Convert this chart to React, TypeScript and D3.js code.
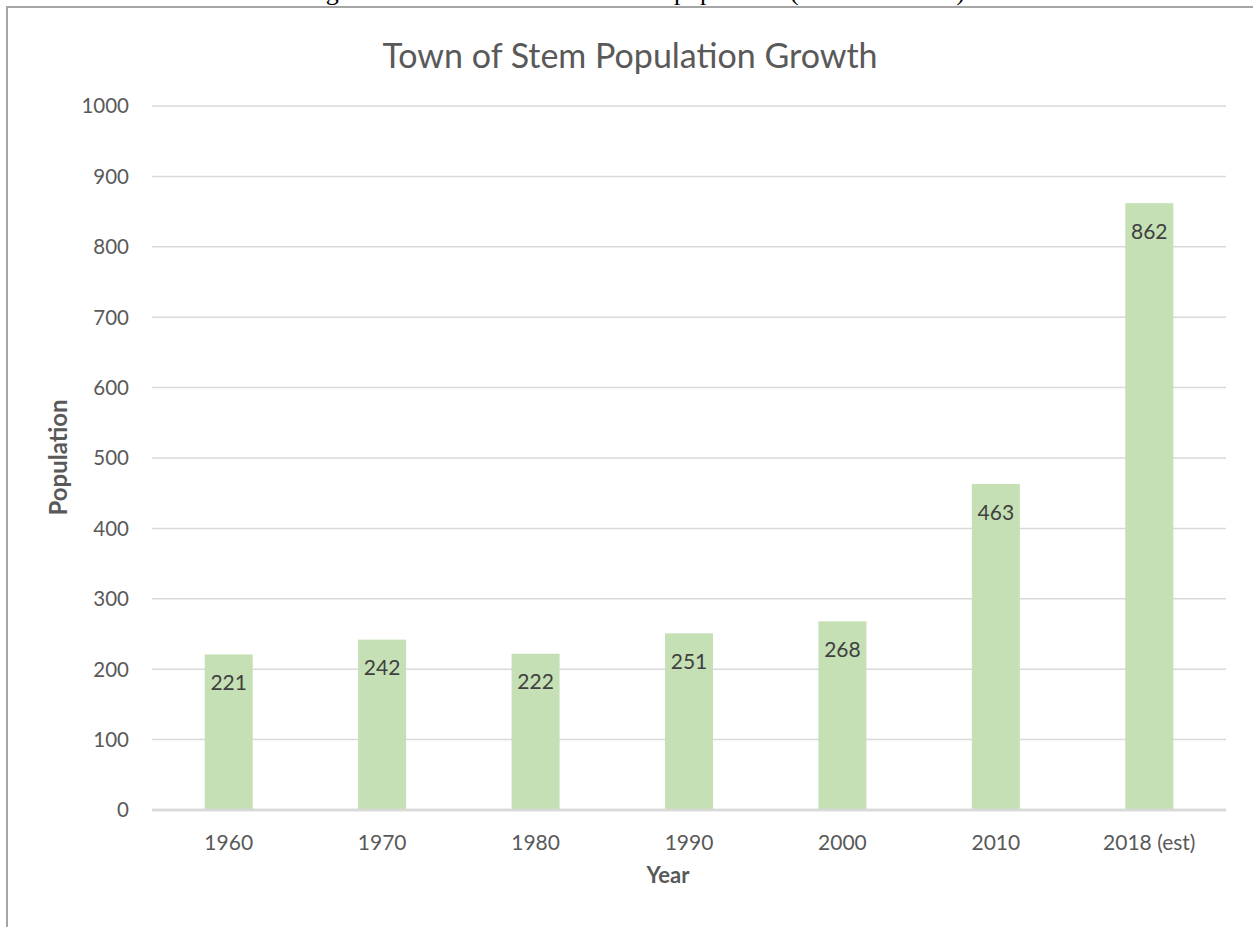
import React from "react";
import * as d3 from "d3";

// Census counts for the Town of Stem, one bar per period
const years: string[] = ["1960", "1970", "1980", "1990", "2000", "2010", "2018 (est)"];
const population: number[] = [221, 242, 222, 251, 268, 463, 862];
const yTicks: number[] = [0, 100, 200, 300, 400, 500, 600, 700, 800, 900, 1000];

const chartTitle = "Town of Stem Population Growth";
const xTitle = "Year";
const yTitle = "Population";

const W = 1253;
const H = 927;
const FONT = "Lato, 'Open Sans', sans-serif";
const SERIF = "'Liberation Serif', 'Times New Roman', serif";

export default function App() {
  const plot = { left: 152, right: 1226, top: 106, bottom: 810 };

  const x = d3
    .scaleBand<string>()
    .domain(years)
    .range([plot.left, plot.right])
    .paddingInner(0.687)
    .paddingOuter(0.3435);

  const y = d3.scaleLinear().domain([0, 1000]).range([plot.bottom, plot.top]);

  return (
    <svg
      width={W}
      height={H}
      viewBox={`0 0 ${W} ${H}`}
      style={{ position: "absolute", left: 0, top: 0, background: "#fff" }}
    >
      {/* document caption running above the chart, mostly cut off by the page edge */}
      <g fontFamily={SERIF} fontSize={26} fill="#000">
        <text x={304} y={0}>Figure 1: Town of Stem</text>
        <text x={674} y={0}>population</text>
        <text x={790} y={0} textLength={175} lengthAdjust="spacing">(1960-2018)</text>
      </g>

      {/* chart frame */}
      <path d={`M7,${H} L7,7 L${W},7`} fill="none" stroke="#a6a6a6" strokeWidth={2} />

      {/* title */}
      <text
        x={630}
        y={68}
        textAnchor="middle"
        fontFamily={FONT}
        fontSize={34}
        fill="#595959"
      >
        {chartTitle}
      </text>

      {/* horizontal gridlines */}
      {yTicks.map((t) => (
        <line
          key={"g" + t}
          x1={plot.left}
          x2={plot.right}
          y1={y(t)}
          y2={y(t)}
          stroke="#d9d9d9"
          strokeWidth={t === 0 ? 2.5 : 1.5}
        />
      ))}

      {/* y tick labels */}
      {yTicks.map((t) => (
        <text
          key={"yl" + t}
          x={129}
          y={y(t)}
          dy="0.36em"
          textAnchor="end"
          fontFamily={FONT}
          fontSize={20.5}
          fill="#595959"
        >
          {t}
        </text>
      ))}

      {/* bars */}
      {years.map((c, i) => (
        <rect
          key={"b" + c}
          x={x(c)}
          y={y(population[i])}
          width={x.bandwidth()}
          height={y(0) - y(population[i])}
          fill="#c5e0b4"
        />
      ))}

      {/* axis line on top of bars */}
      <line x1={plot.left} x2={plot.right} y1={y(0)} y2={y(0)} stroke="#d9d9d9" strokeWidth={2.5} />

      {/* value labels, inside the top of each bar */}
      {years.map((c, i) => (
        <text
          key={"v" + c}
          x={(x(c) as number) + x.bandwidth() / 2}
          y={y(population[i]) + 28}
          dy="0.36em"
          textAnchor="middle"
          fontFamily={FONT}
          fontSize={21}
          fill="#404040"
        >
          {population[i]}
        </text>
      ))}

      {/* x tick labels */}
      {years.map((c) => (
        <text
          key={"xl" + c}
          x={(x(c) as number) + x.bandwidth() / 2}
          y={842}
          dy="0.36em"
          textAnchor="middle"
          fontFamily={FONT}
          fontSize={21}
          fill="#595959"
        >
          {c}
        </text>
      ))}

      {/* axis titles */}
      <text
        x={668}
        y={875}
        dy="0.36em"
        textAnchor="middle"
        fontFamily={FONT}
        fontSize={22}
        fontWeight="bold"
        fill="#595959"
      >
        {xTitle}
      </text>
      <text
        transform={`translate(58, ${(398 + 517) / 2}) rotate(-90)`}
        dy="0.36em"
        textAnchor="middle"
        fontFamily={FONT}
        fontSize={24}
        fontWeight="bold"
        fill="#595959"
      >
        {yTitle}
      </text>
    </svg>
  );
}
